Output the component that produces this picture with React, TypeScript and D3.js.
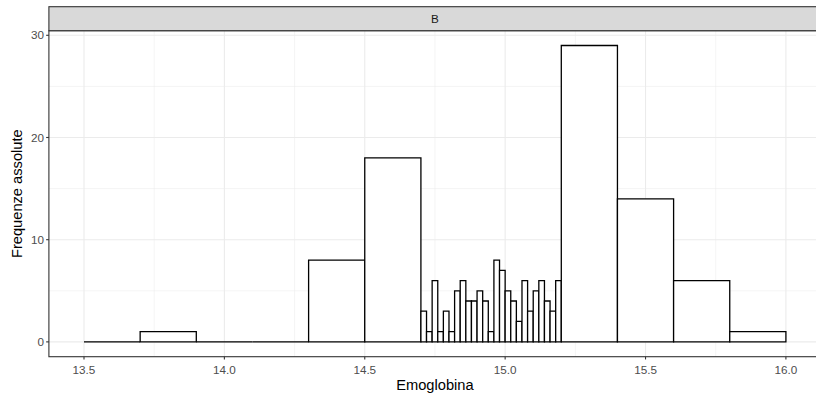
import * as d3 from "d3";

// histogram of hemoglobin, group B (bin edges and counts)
const binEdges = [
  13.5, 13.7, 13.9, 14.1, 14.3, 14.5, 14.7,
  14.72, 14.74, 14.76, 14.78, 14.8, 14.82, 14.84, 14.86, 14.88, 14.9,
  14.92, 14.94, 14.96, 14.98, 15.0, 15.02, 15.04, 15.06, 15.08, 15.1,
  15.12, 15.14, 15.16, 15.18, 15.2,
  15.4, 15.6, 15.8, 16.0,
];
const counts = [
  0, 1, 0, 0, 8, 18,
  3, 1, 6, 1, 3, 1, 5, 6, 4, 4, 5, 4, 1, 8, 7, 5, 4, 2, 6, 3, 5, 6, 4, 3, 6,
  29, 14, 6, 1,
];
const xTicks = [13.5, 14.0, 14.5, 15.0, 15.5, 16.0];
const xMinor = [13.75, 14.25, 14.75, 15.25, 15.75];
const yTicks = [0, 10, 20, 30];
const yMinor = [5, 15, 25];
const facetLabel = "B";
const xTitle = "Emoglobina";
const yTitle = "Frequenze assolute";

const W = 816;
const H = 394;
const panel = { left: 48.9, right: 821, top: 30.7, bottom: 356.7 };
const font = "'Liberation Sans', Arial, Helvetica, sans-serif";

export default function App() {
  const x = d3.scaleLinear().domain([13.375, 16.125]).range([panel.left, panel.right]);
  const y = d3.scaleLinear().domain([-1.45, 30.45]).range([panel.bottom, panel.top]);

  const bins = counts.map((c, i) => ({ x0: binEdges[i], x1: binEdges[i + 1], n: c }));
  // drawn as paths so that the empty bins still show up as a flat line
  const barPath = (b: { x0: number; x1: number; n: number }) => {
    const p = d3.path();
    p.moveTo(x(b.x0), y(0));
    p.lineTo(x(b.x1), y(0));
    p.lineTo(x(b.x1), y(b.n));
    p.lineTo(x(b.x0), y(b.n));
    p.closePath();
    return p.toString();
  };

  const pr = panel.right;
  return (
    <svg
      width={W}
      height={H}
      style={{ position: "absolute", left: 0, top: 0, background: "white" }}
      fontFamily={font}
    >
      <rect x={0} y={0} width={W} height={H} fill="white" />
      {/* grid */}
      <g>
        {yMinor.map((t) => (
          <line key={"ym" + t} x1={panel.left} x2={pr} y1={y(t)} y2={y(t)} stroke="#EBEBEB" strokeWidth={0.55} />
        ))}
        {xMinor.map((t) => (
          <line key={"xm" + t} x1={x(t)} x2={x(t)} y1={panel.top} y2={panel.bottom} stroke="#EBEBEB" strokeWidth={0.55} />
        ))}
        {yTicks.map((t) => (
          <line key={"y" + t} x1={panel.left} x2={pr} y1={y(t)} y2={y(t)} stroke="#EBEBEB" strokeWidth={1.1} />
        ))}
        {xTicks.map((t) => (
          <line key={"x" + t} x1={x(t)} x2={x(t)} y1={panel.top} y2={panel.bottom} stroke="#EBEBEB" strokeWidth={1.1} />
        ))}
      </g>
      {/* bars */}
      <g>
        {bins.map((b, i) => (
          <path key={i} d={barPath(b)} fill="white" stroke="black" strokeWidth={1.3} />
        ))}
      </g>
      {/* panel border */}
      <rect x={panel.left} y={panel.top} width={pr - panel.left} height={panel.bottom - panel.top} fill="none" stroke="#333333" strokeWidth={1.1} />
      {/* strip */}
      <rect x={panel.left} y={6.7} width={pr - panel.left} height={panel.top - 6.7} fill="#D9D9D9" stroke="#333333" strokeWidth={1.1} />
      <text x={(panel.left + pr) / 2} y={23} textAnchor="middle" fontSize={11.7} fill="#1A1A1A">
        {facetLabel}
      </text>
      {/* axes */}
      {xTicks.map((t) => (
        <g key={"xt" + t}>
          <line x1={x(t)} x2={x(t)} y1={panel.bottom} y2={panel.bottom + 2.75} stroke="#333333" strokeWidth={1.1} />
          <text x={x(t)} y={373.5} textAnchor="middle" fontSize={11.7} fill="#4D4D4D">
            {d3.format(".1f")(t)}
          </text>
        </g>
      ))}
      {yTicks.map((t) => (
        <g key={"yt" + t}>
          <line x1={panel.left - 2.75} x2={panel.left} y1={y(t)} y2={y(t)} stroke="#333333" strokeWidth={1.1} />
          <text x={panel.left - 4.9} y={y(t)} dy="0.35em" textAnchor="end" fontSize={11.7} fill="#4D4D4D">
            {t}
          </text>
        </g>
      ))}
      <text x={(panel.left + pr) / 2} y={389.5} textAnchor="middle" fontSize={14.67} fill="black">
        {xTitle}
      </text>
      <text
        transform={`translate(21.5, ${(panel.top + panel.bottom) / 2}) rotate(-90)`}
        textAnchor="middle"
        fontSize={14.67}
        fill="black"
      >
        {yTitle}
      </text>
    </svg>
  );
}
